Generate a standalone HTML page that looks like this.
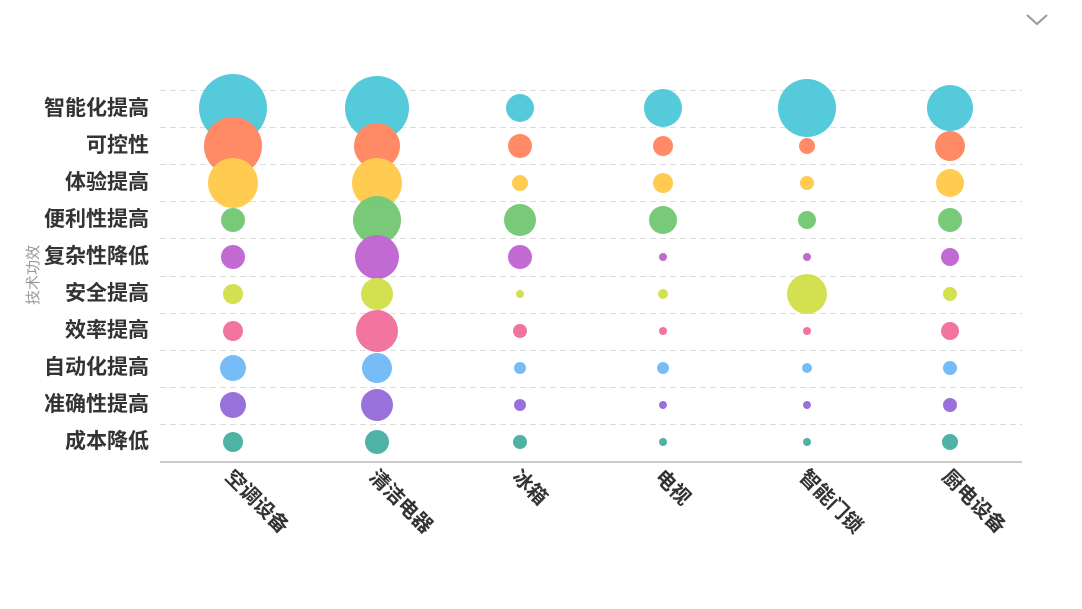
<!DOCTYPE html>
<html><head><meta charset="utf-8"><style>
html,body{margin:0;padding:0;background:#fff;}
svg{display:block;font-family:"Liberation Sans","Noto Sans CJK SC",sans-serif;}
</style></head><body>
<svg width="1082" height="609" viewBox="0 0 1082 609" xmlns="http://www.w3.org/2000/svg">
<polyline points="1027,15 1037,24 1047,15" fill="none" stroke="#999" stroke-width="2"/>
<g stroke="#ddd" stroke-dasharray="6,4" stroke-width="1">
<line x1="160" x2="1022" y1="90.5" y2="90.5"/><line x1="160" x2="1022" y1="127.5" y2="127.5"/>
<line x1="160" x2="1022" y1="164.5" y2="164.5"/><line x1="160" x2="1022" y1="201.5" y2="201.5"/>
<line x1="160" x2="1022" y1="238.5" y2="238.5"/><line x1="160" x2="1022" y1="276.5" y2="276.5"/>
<line x1="160" x2="1022" y1="313.5" y2="313.5"/><line x1="160" x2="1022" y1="350.5" y2="350.5"/>
<line x1="160" x2="1022" y1="387.5" y2="387.5"/><line x1="160" x2="1022" y1="424.5" y2="424.5"/>
</g>
<line x1="160" x2="1022" y1="462" y2="462" stroke="#ccc" stroke-width="2"/>
<g font-size="21" font-weight="bold" fill="#333" text-anchor="end">
<text x="149" y="115">智能化提高</text><text x="149" y="152">可控性</text><text x="149" y="189">体验提高</text>
<text x="149" y="226">便利性提高</text><text x="149" y="263">复杂性降低</text><text x="149" y="300">安全提高</text>
<text x="149" y="337">效率提高</text><text x="149" y="374">自动化提高</text><text x="149" y="411">准确性提高</text>
<text x="149" y="448">成本降低</text>
</g>
<text transform="translate(38,275) rotate(-90)" font-size="15" fill="#999" text-anchor="middle">技术功效</text>
<g font-size="20" font-weight="bold" fill="#333">
<text transform="translate(224,478) rotate(45)">空调设备</text>
<text transform="translate(368,478) rotate(45)">清洁电器</text>
<text transform="translate(511,478) rotate(45)">冰箱</text>
<text transform="translate(654,478) rotate(45)">电视</text>
<text transform="translate(798,478) rotate(45)">智能门锁</text>
<text transform="translate(941,478) rotate(45)">厨电设备</text>
</g>
<g opacity="0.88">
<g fill="#3ec3d5"><circle cx="233" cy="108" r="34"/><circle cx="377" cy="108" r="32"/><circle cx="520" cy="108" r="14"/><circle cx="663" cy="108" r="19"/><circle cx="807" cy="108" r="29"/><circle cx="950" cy="108" r="23"/></g>
<g fill="#ff7a50"><circle cx="233" cy="146" r="29"/><circle cx="377" cy="146" r="23"/><circle cx="520" cy="146" r="12"/><circle cx="663" cy="146" r="10"/><circle cx="807" cy="146" r="8"/><circle cx="950" cy="146" r="15"/></g>
<g fill="#ffc53a"><circle cx="233" cy="183" r="25"/><circle cx="377" cy="183" r="25"/><circle cx="520" cy="183" r="8"/><circle cx="663" cy="183" r="10"/><circle cx="807" cy="183" r="7"/><circle cx="950" cy="183" r="14"/></g>
<g fill="#66c266"><circle cx="233" cy="220" r="12"/><circle cx="377" cy="220" r="24"/><circle cx="520" cy="220" r="16"/><circle cx="663" cy="220" r="14"/><circle cx="807" cy="220" r="9"/><circle cx="950" cy="220" r="12"/></g>
<g fill="#b956cc"><circle cx="233" cy="257" r="12"/><circle cx="377" cy="257" r="22"/><circle cx="520" cy="257" r="12"/><circle cx="663" cy="257" r="4"/><circle cx="807" cy="257" r="4"/><circle cx="950" cy="257" r="9"/></g>
<g fill="#cddc39"><circle cx="233" cy="294" r="10"/><circle cx="377" cy="294" r="16"/><circle cx="520" cy="294" r="4"/><circle cx="663" cy="294" r="5"/><circle cx="807" cy="294" r="20"/><circle cx="950" cy="294" r="7"/></g>
<g fill="#f06292"><circle cx="233" cy="331" r="10"/><circle cx="377" cy="331" r="21"/><circle cx="520" cy="331" r="7"/><circle cx="663" cy="331" r="4"/><circle cx="807" cy="331" r="4"/><circle cx="950" cy="331" r="9"/></g>
<g fill="#64b5f6"><circle cx="233" cy="368" r="13"/><circle cx="377" cy="368" r="15"/><circle cx="520" cy="368" r="6"/><circle cx="663" cy="368" r="6"/><circle cx="807" cy="368" r="5"/><circle cx="950" cy="368" r="7"/></g>
<g fill="#8a5fd6"><circle cx="233" cy="405" r="13"/><circle cx="377" cy="405" r="16"/><circle cx="520" cy="405" r="6"/><circle cx="663" cy="405" r="4"/><circle cx="807" cy="405" r="4"/><circle cx="950" cy="405" r="7"/></g>
<g fill="#36a899"><circle cx="233" cy="442" r="10"/><circle cx="377" cy="442" r="12"/><circle cx="520" cy="442" r="7"/><circle cx="663" cy="442" r="4"/><circle cx="807" cy="442" r="4"/><circle cx="950" cy="442" r="8"/></g>
</g>
</svg>
</body></html>
